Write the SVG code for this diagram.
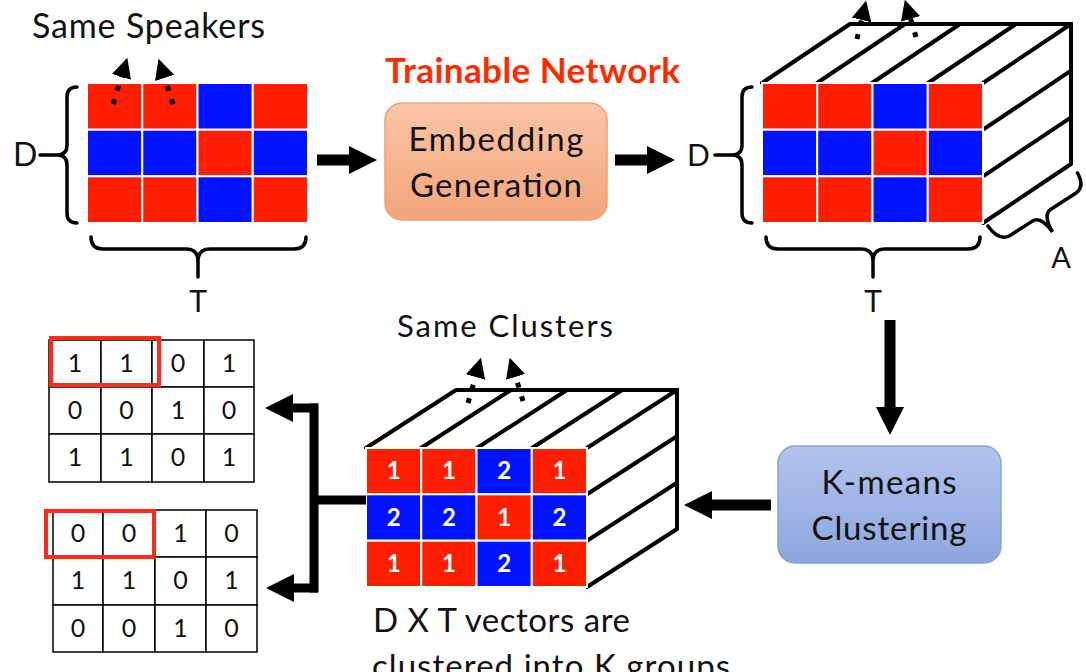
<svg xmlns="http://www.w3.org/2000/svg" width="1086" height="672" viewBox="0 0 1086 672">
<defs>
<style>
.r{fill:#FF1E00;stroke:#fff;stroke-width:2}
.b{fill:#0012FF;stroke:#fff;stroke-width:2}
.t{font-family:Lato,"Liberation Sans",sans-serif;fill:#111}
.edge{stroke:#000;stroke-width:4;fill:none;stroke-linecap:round}
.brace{stroke:#000;stroke-width:3.5;fill:none;stroke-linecap:round}
.dash{stroke:#000;stroke-width:5;stroke-dasharray:5 9;fill:none}
.thick{stroke:#000;stroke-width:11;fill:none}
.thin{stroke:#000;stroke-width:9;fill:none}
.cell{fill:#fff;stroke:#000;stroke-width:1.5}
.num{font-family:Lato,"Liberation Sans",sans-serif;font-size:25px;text-anchor:middle;fill:#111}
.wn{font-family:Lato,"Liberation Sans",sans-serif;font-weight:bold;font-size:24px;fill:#fff;text-anchor:middle}
.hl{fill:none;stroke:#FF2A1A;stroke-width:4}
</style>
<linearGradient id="gEmb" x1="0" y1="0" x2="0" y2="1">
<stop offset="0" stop-color="#F9C6A8"/><stop offset="1" stop-color="#F4A47A"/>
</linearGradient>
<linearGradient id="gKm" x1="0" y1="0" x2="0" y2="1">
<stop offset="0" stop-color="#B2C4EC"/><stop offset="1" stop-color="#8DA6DE"/>
</linearGradient>
<marker id="dh" markerUnits="userSpaceOnUse" markerWidth="21" markerHeight="21" refX="2" refY="10" orient="auto" viewBox="0 0 21 20"><path d="M0,0 L20,10 L0,20 z" fill="#000"/></marker>
<marker id="ah" markerUnits="userSpaceOnUse" markerWidth="30" markerHeight="30" refX="1" refY="14" orient="auto" viewBox="0 0 30 28"><path d="M0,0 L28,14 L0,28 z" fill="#000"/></marker>
</defs>
<rect width="1086" height="672" fill="#fff"/>

<!-- Top-left input grid -->
<g id="input-grid">
<text class="t" x="32" y="38" font-size="34" textLength="233">Same Speakers</text>
<rect class="r" x="87" y="83" width="55.25" height="46.7"/>
<rect class="r" x="142.25" y="83" width="55.25" height="46.7"/>
<rect class="b" x="197.5" y="83" width="55.25" height="46.7"/>
<rect class="r" x="252.75" y="83" width="55.25" height="46.7"/>
<rect class="b" x="87" y="129.7" width="55.25" height="46.6"/>
<rect class="b" x="142.25" y="129.7" width="55.25" height="46.6"/>
<rect class="r" x="197.5" y="129.7" width="55.25" height="46.6"/>
<rect class="b" x="252.75" y="129.7" width="55.25" height="46.6"/>
<rect class="r" x="87" y="176.3" width="55.25" height="46.7"/>
<rect class="r" x="142.25" y="176.3" width="55.25" height="46.7"/>
<rect class="b" x="197.5" y="176.3" width="55.25" height="46.7"/>
<rect class="r" x="252.75" y="176.3" width="55.25" height="46.7"/>
<path class="dash" d="M113,104 L122,75" marker-end="url(#dh)"/>
<path class="dash" d="M173,104 L164,76" marker-end="url(#dh)"/>
<path class="brace" d="M77,87 Q67,87 67,97 L67,145 Q67,155 57,155 Q67,155 67,165 L67,213 Q67,223 77,223 M40,155 H57"/>
<text class="t" x="13" y="166" font-size="32">D</text>
<path class="brace" d="M91,237 Q91,249 103,249 L186,249 Q198,249 198,261 Q198,249 210,249 L294,249 Q306,249 306,237 M198,261 V277"/>
<text class="t" x="198" y="312" font-size="30" text-anchor="middle">T</text>
</g>

<!-- Embedding Generation -->
<g id="embedding">
<text x="385" y="83" font-family="Lato,'Liberation Sans',sans-serif" font-weight="bold" font-size="35" fill="#FF2A00" textLength="295">Trainable Network</text>
<rect x="385" y="103" width="222" height="117" rx="17" fill="url(#gEmb)" stroke="#F0A276" stroke-width="1.5"/>
<text class="t" x="496" y="151" font-size="33" text-anchor="middle" textLength="175">Embedding</text>
<text class="t" x="496" y="197" font-size="33" text-anchor="middle" textLength="172">Generation</text>
</g>

<!-- Top-right embedding cube -->
<g id="embedding-cube">
<path class="edge" d="M762,83 L850,24 M817,83 L905,24 M872,83 L960,24 M928,83 L1016,24 M983,83 L1071,24 M850,24 H1071 V164 M983,129.7 L1071,70.7 M983,176.3 L1071,117.3 M983,223 L1071,164"/>
<rect class="r" x="762" y="83" width="55.25" height="46.7"/>
<rect class="r" x="817.25" y="83" width="55.25" height="46.7"/>
<rect class="b" x="872.5" y="83" width="55.25" height="46.7"/>
<rect class="r" x="927.75" y="83" width="55.25" height="46.7"/>
<rect class="b" x="762" y="129.7" width="55.25" height="46.6"/>
<rect class="b" x="817.25" y="129.7" width="55.25" height="46.6"/>
<rect class="r" x="872.5" y="129.7" width="55.25" height="46.6"/>
<rect class="b" x="927.75" y="129.7" width="55.25" height="46.6"/>
<rect class="r" x="762" y="176.3" width="55.25" height="46.7"/>
<rect class="r" x="817.25" y="176.3" width="55.25" height="46.7"/>
<rect class="b" x="872.5" y="176.3" width="55.25" height="46.7"/>
<rect class="r" x="927.75" y="176.3" width="55.25" height="46.7"/>
<path class="dash" d="M857,39 L862,18" marker-end="url(#dh)"/>
<path class="dash" d="M916,37 L910,17" marker-end="url(#dh)"/>
<path class="brace" d="M752,87 Q742,87 742,97 L742,145 Q742,155 732,155 Q742,155 742,165 L742,213 Q742,223 752,223 M715,155 H732"/>
<text class="t" x="687" y="166" font-size="30">D</text>
<path class="brace" d="M766,237 Q766,249 778,249 L861,249 Q873,249 873,261 Q873,249 885,249 L968,249 Q980,249 980,237 M873,261 V277"/>
<text class="t" x="873" y="312" font-size="30" text-anchor="middle">T</text>
<path class="brace" transform="translate(983,222) rotate(-32.8)" d="M2,6 Q3,25 15,26 L42,26 Q52,26 53,46 Q54,26 64,26 L93,26 Q105,26 106,10"/>
<text class="t" x="1061" y="268" font-size="29" text-anchor="middle">A</text>
</g>

<!-- K-means -->
<g id="kmeans">
<rect x="778" y="446" width="223" height="117" rx="17" fill="url(#gKm)" stroke="#89A1D6" stroke-width="1.5"/>
<text class="t" x="889" y="494" font-size="33" text-anchor="middle" textLength="135">K-means</text>
<text class="t" x="889" y="540" font-size="33" text-anchor="middle" textLength="155">Clustering</text>
</g>

<!-- Bottom clustered cube -->
<g id="cluster-cube">
<text class="t" x="397" y="337" font-size="31" textLength="216">Same Clusters</text>
<path class="edge" d="M366,448 L456,390 M421,448 L511,390 M477,448 L567,390 M532,448 L622,390 M587,448 L677,390 M456,390 H677 V529 M587,494.3 L677,436.3 M587,540.7 L677,482.7 M587,587 L677,529"/>
<rect class="r" x="366" y="448" width="55.25" height="46.3"/>
<rect class="r" x="421.25" y="448" width="55.25" height="46.3"/>
<rect class="b" x="476.5" y="448" width="55.25" height="46.3"/>
<rect class="r" x="531.75" y="448" width="55.25" height="46.3"/>
<rect class="b" x="366" y="494.3" width="55.25" height="46.4"/>
<rect class="b" x="421.25" y="494.3" width="55.25" height="46.4"/>
<rect class="r" x="476.5" y="494.3" width="55.25" height="46.4"/>
<rect class="b" x="531.75" y="494.3" width="55.25" height="46.4"/>
<rect class="r" x="366" y="540.7" width="55.25" height="46.3"/>
<rect class="r" x="421.25" y="540.7" width="55.25" height="46.3"/>
<rect class="b" x="476.5" y="540.7" width="55.25" height="46.3"/>
<rect class="r" x="531.75" y="540.7" width="55.25" height="46.3"/>
<text class="wn" x="393.6" y="479">1</text><text class="wn" x="448.9" y="479">1</text><text class="wn" x="504.1" y="479">2</text><text class="wn" x="559.4" y="479">1</text>
<text class="wn" x="393.6" y="526">2</text><text class="wn" x="448.9" y="526">2</text><text class="wn" x="504.1" y="526">1</text><text class="wn" x="559.4" y="526">2</text>
<text class="wn" x="393.6" y="572">1</text><text class="wn" x="448.9" y="572">1</text><text class="wn" x="504.1" y="572">2</text><text class="wn" x="559.4" y="572">1</text>
<path class="dash" d="M468,403 L476,375" marker-end="url(#dh)"/>
<path class="dash" d="M523,401 L515,375" marker-end="url(#dh)"/>
<text class="t" x="373" y="632" font-size="33" textLength="257">D X T vectors are</text>
<text class="t" x="372" y="678" font-size="33" textLength="358">clustered into K groups</text>
</g>

<!-- Table 1 -->
<g id="table-1">
<rect class="cell" x="49" y="340" width="52" height="47"/><rect class="cell" x="101" y="340" width="51" height="47"/><rect class="cell" x="152" y="340" width="52" height="47"/><rect class="cell" x="204" y="340" width="50" height="47"/>
<rect class="cell" x="49" y="387" width="52" height="47"/><rect class="cell" x="101" y="387" width="51" height="47"/><rect class="cell" x="152" y="387" width="52" height="47"/><rect class="cell" x="204" y="387" width="50" height="47"/>
<rect class="cell" x="49" y="434" width="52" height="48"/><rect class="cell" x="101" y="434" width="51" height="48"/><rect class="cell" x="152" y="434" width="52" height="48"/><rect class="cell" x="204" y="434" width="50" height="48"/>
<text class="num" x="75" y="372">1</text><text class="num" x="126.5" y="372">1</text><text class="num" x="178" y="372">0</text><text class="num" x="229" y="372">1</text>
<text class="num" x="75" y="419">0</text><text class="num" x="126.5" y="419">0</text><text class="num" x="178" y="419">1</text><text class="num" x="229" y="419">0</text>
<text class="num" x="75" y="466">1</text><text class="num" x="126.5" y="466">1</text><text class="num" x="178" y="466">0</text><text class="num" x="229" y="466">1</text>
<rect class="hl" x="51" y="338" width="108" height="47"/>
</g>

<!-- Table 2 -->
<g id="table-2">
<rect class="cell" x="53" y="510" width="50" height="47"/><rect class="cell" x="103" y="510" width="52" height="47"/><rect class="cell" x="155" y="510" width="51" height="47"/><rect class="cell" x="206" y="510" width="51" height="47"/>
<rect class="cell" x="53" y="557" width="50" height="48"/><rect class="cell" x="103" y="557" width="52" height="48"/><rect class="cell" x="155" y="557" width="51" height="48"/><rect class="cell" x="206" y="557" width="51" height="48"/>
<rect class="cell" x="53" y="605" width="50" height="47"/><rect class="cell" x="103" y="605" width="52" height="47"/><rect class="cell" x="155" y="605" width="51" height="47"/><rect class="cell" x="206" y="605" width="51" height="47"/>
<text class="num" x="78" y="542">0</text><text class="num" x="129" y="542">0</text><text class="num" x="180.5" y="542">1</text><text class="num" x="231.5" y="542">0</text>
<text class="num" x="78" y="589">1</text><text class="num" x="129" y="589">1</text><text class="num" x="180.5" y="589">0</text><text class="num" x="231.5" y="589">1</text>
<text class="num" x="78" y="637">0</text><text class="num" x="129" y="637">0</text><text class="num" x="180.5" y="637">1</text><text class="num" x="231.5" y="637">0</text>
<rect class="hl" x="46" y="511" width="108" height="46"/>
</g>

<!-- Connectors -->
<g id="connectors">
<path class="thick" d="M317,160 H350" marker-end="url(#ah)"/>
<path class="thick" d="M615,160 H648" marker-end="url(#ah)"/>
<path class="thick" d="M890,320 V408" marker-end="url(#ah)"/>
<path class="thick" d="M771,505 H711" marker-end="url(#ah)"/>
<path class="thin" d="M366,500 H314"/>
<path class="thin" d="M314,403.5 V592.5"/>
<path class="thin" d="M318,408 H292" marker-end="url(#ah)"/>
<path class="thin" d="M318,588 H293" marker-end="url(#ah)"/>
</g>
</svg>
